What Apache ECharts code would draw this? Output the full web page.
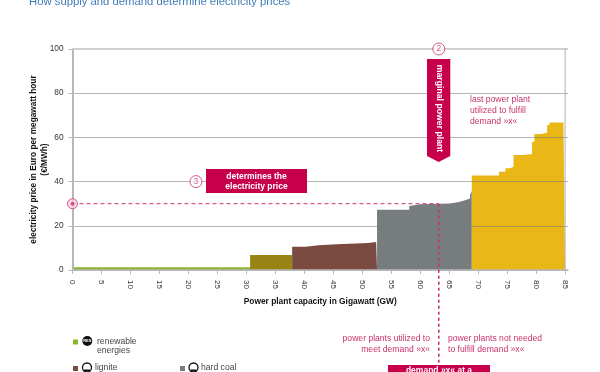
<!DOCTYPE html>
<html><head><meta charset="utf-8">
<style>html,body{margin:0;padding:0;background:#fff}#c{width:600px;height:372px}</style>
<script src="https://cdn.jsdelivr.net/npm/echarts@6/dist/echarts.min.js"></script>
</head><body><div id="c"></div>
<script>
const xTicks = [0,5,10,15,20,25,30,35,40,45,50,55,60,65,70,75,80,85];
const renewableX = [0,30.65];
const renewableY = [1.3,1.3];
const nuclearX = [30.65,37.9];
const nuclearY = [6.8,6.8];
const ligniteX = [37.9,40.2,42.5,45.6,51,52.4,52.55];
const ligniteY = [10.5,11.2,11.6,12.2,12.7,13.1,13.1];
const hardCoalX = [52.55,58.1,58.4,60,65.1,66.7,67.6,68.6,68.9];
const hardCoalY = [27.3,29,29.7,30.1,30.8,31.5,32.4,34.2,35.7];
const gasX = [68.9,73.6,74.7,75.5,76.1,77.7,79.3,79.7,80.9,81.9,82.3,84.7,85];
const gasY = [42.8,44.5,46,46.7,52,52.5,58,61.5,62.1,65.6,66.7,69.5,69.5];
const demand = 63.2, price = 30;

const crimson = '#c7004c', pinkText = '#c9326d', axisGray = '#b8b8b8', font = 'Liberation Sans';
const pairs = (xs, ys) => xs.map((x, i) => [x, ys[i]]);
const area = (name, xs, ys, color) => ({
  name, type: 'line', step: 'end', data: pairs(xs, ys), showSymbol: false, silent: true, z: 2,
  lineStyle: {width: 0}, areaStyle: {color, opacity: 1}, itemStyle: {color}
});
const text = (x, y, t, fill, extra) => ({type: 'text', x, y, silent: true, z: 20,
  style: Object.assign({text: t, fill, font: '8.6px "Liberation Sans"', verticalAlign: 'middle', align: 'left'}, extra || {})});
const rect = (x, y, w, h, fill) => ({type: 'rect', silent: true, z: 19, shape: {x, y, width: w, height: h}, style: {fill}});
const icon = (cx, cy, filled) => filled
  ? [{type: 'circle', silent: true, z: 19, shape: {cx, cy, r: 5}, style: {fill: '#111'}},
     text(cx, cy, 'RES', '#fff', {font: 'bold 4px "Liberation Sans"', align: 'center'})]
  : [{type: 'circle', silent: true, z: 19, shape: {cx, cy, r: 4.5}, style: {fill: '#fff', stroke: '#111', lineWidth: 1.3}},
     {type: 'rect', silent: true, z: 19, shape: {x: cx - 3, y: cy + 2, width: 6, height: 1.6}, style: {fill: '#111'}}];

const graphic = [
  text(29, 2, 'How supply and demand determine electricity prices', '#3f7ab5', {font: '11.3px "Liberation Sans"'}),
  rect(206, 169, 101, 24, crimson),
  text(256.5, 176.5, 'determines the', '#fff', {font: 'bold 8.5px "Liberation Sans"', align: 'center'}),
  text(256.5, 186.5, 'electricity price', '#fff', {font: 'bold 8.5px "Liberation Sans"', align: 'center'}),
  {type: 'polygon', silent: true, z: 19, shape: {points: [[427,59],[450.3,59],[450.3,156],[438.7,162],[427,156]]}, style: {fill: crimson}},
  {type: 'text', x: 439, y: 108.5, rotation: -Math.PI / 2, silent: true, z: 20,
    style: {text: 'marginal power plant', fill: '#fff', font: 'bold 8.7px "Liberation Sans"', align: 'center', verticalAlign: 'middle'}},
  text(470, 100, 'last power plant', pinkText),
  text(470, 111, 'utilized to fulfill', pinkText),
  text(470, 122, 'demand »x«', pinkText),
  text(430, 339, 'power plants utilized to', pinkText, {align: 'right'}),
  text(430, 350, 'meet demand »x«', pinkText, {align: 'right'}),
  text(448, 339, 'power plants not needed', pinkText),
  text(448, 350, 'to fulfill demand »x«', pinkText),
  rect(388, 365, 102, 12, crimson),
  text(439, 371, 'demand »x« at a', '#fff', {font: 'bold 8.5px "Liberation Sans"', align: 'center'}),
  rect(73, 339.5, 5, 5, '#8ab62e'),
  ...icon(87.3, 341, true),
  text(97, 341.5, 'renewable', '#444'),
  text(97, 351, 'energies', '#444'),
  rect(73, 366, 5, 5, '#7a4a40'),
  ...icon(87, 367.5, false),
  text(95, 368, 'lignite', '#444'),
  rect(180, 366, 5, 5, '#777c7e'),
  ...icon(193.5, 367.5, false),
  text(201, 368, 'hard coal', '#444')
];

const chart = echarts.init(document.getElementById('c'), null, {renderer: 'canvas'});
chart.setOption({
  animation: false,
  backgroundColor: '#fff',
  textStyle: {fontFamily: font},
  grid: {left: 72.5, right: 32, top: 49, bottom: 102},
  xAxis: {
    type: 'value', min: 0, max: 85.5, z: 3,
    splitLine: {show: false},
    axisLine: {show: true, onZero: false, lineStyle: {color: axisGray, width: 1.5}},
    axisTick: {show: true, length: 4, lineStyle: {color: axisGray}, customValues: xTicks},
    axisLabel: {rotate: -90, fontSize: 8, color: '#333', margin: 10, customValues: xTicks, showMinLabel: true, showMaxLabel: true},
    name: 'Power plant capacity in Gigawatt (GW)', nameLocation: 'middle', nameGap: 28, nameMoveOverlap: false,
    nameTextStyle: {fontWeight: 'bold', fontSize: 8.4, color: '#111'}
  },
  yAxis: {
    type: 'value', min: 0, max: 100, interval: 20, z: 3,
    splitLine: {show: true, lineStyle: {color: 'rgba(120,120,120,0.55)', width: 1}},
    axisLine: {show: true, lineStyle: {color: axisGray, width: 2}},
    axisTick: {show: true, length: 4, lineStyle: {color: axisGray}},
    axisLabel: {fontSize: 8.3, color: '#333', margin: 9},
    name: 'electricity price in Euro per megawatt hour\n(€/MWh)', nameLocation: 'middle', nameGap: 22, nameMoveOverlap: false,
    nameTextStyle: {fontWeight: 'bold', fontSize: 8.3, color: '#111', lineHeight: 11}
  },
  series: [
    area('renewable energies', renewableX, renewableY, '#8ab62e'),
    area('nuclear', nuclearX, nuclearY, '#978414'),
    area('lignite', ligniteX, ligniteY, '#7a4a40'),
    area('hard coal', hardCoalX, hardCoalY, '#777c7e'),
    area('gas', gasX, gasY, '#e9b716'),
    {type: 'line', data: [[0, 100], [85.5, 100]], showSymbol: false, silent: true, z: 4, lineStyle: {color: '#cfcfcf', width: 2}},
    {type: 'line', data: [[85, 0], [85, 100]], showSymbol: false, silent: true, z: 4, lineStyle: {color: '#b0b0b0', width: 1}},
    {type: 'line', data: [[0, price], [demand, price]], showSymbol: false, silent: true, z: 5,
      lineStyle: {color: pinkText, width: 1, type: [4, 3]}},
    {type: 'line', clip: false, data: [[demand, price], [demand, -43]], showSymbol: false, silent: true, z: 5,
      lineStyle: {color: pinkText, width: 1.6, type: [3, 3]}},
    {type: 'scatter', clip: false, silent: true, z: 6, symbolSize: 12,
      itemStyle: {color: '#fff', borderColor: pinkText, borderWidth: 1},
      label: {show: true, position: 'inside', color: pinkText, fontSize: 8.5, formatter: p => p.data[2]},
      data: [[demand, 100, '2'], [21.3, 40, '3']]},
    {type: 'scatter', clip: false, silent: true, z: 6, symbolSize: 10,
      itemStyle: {color: '#f7d5e2', borderColor: pinkText, borderWidth: 1}, data: [[0, price]]},
    {type: 'scatter', clip: false, silent: true, z: 7, symbolSize: 4,
      itemStyle: {color: pinkText}, data: [[0, price]]}
  ],
  graphic
});
</script></body></html>
